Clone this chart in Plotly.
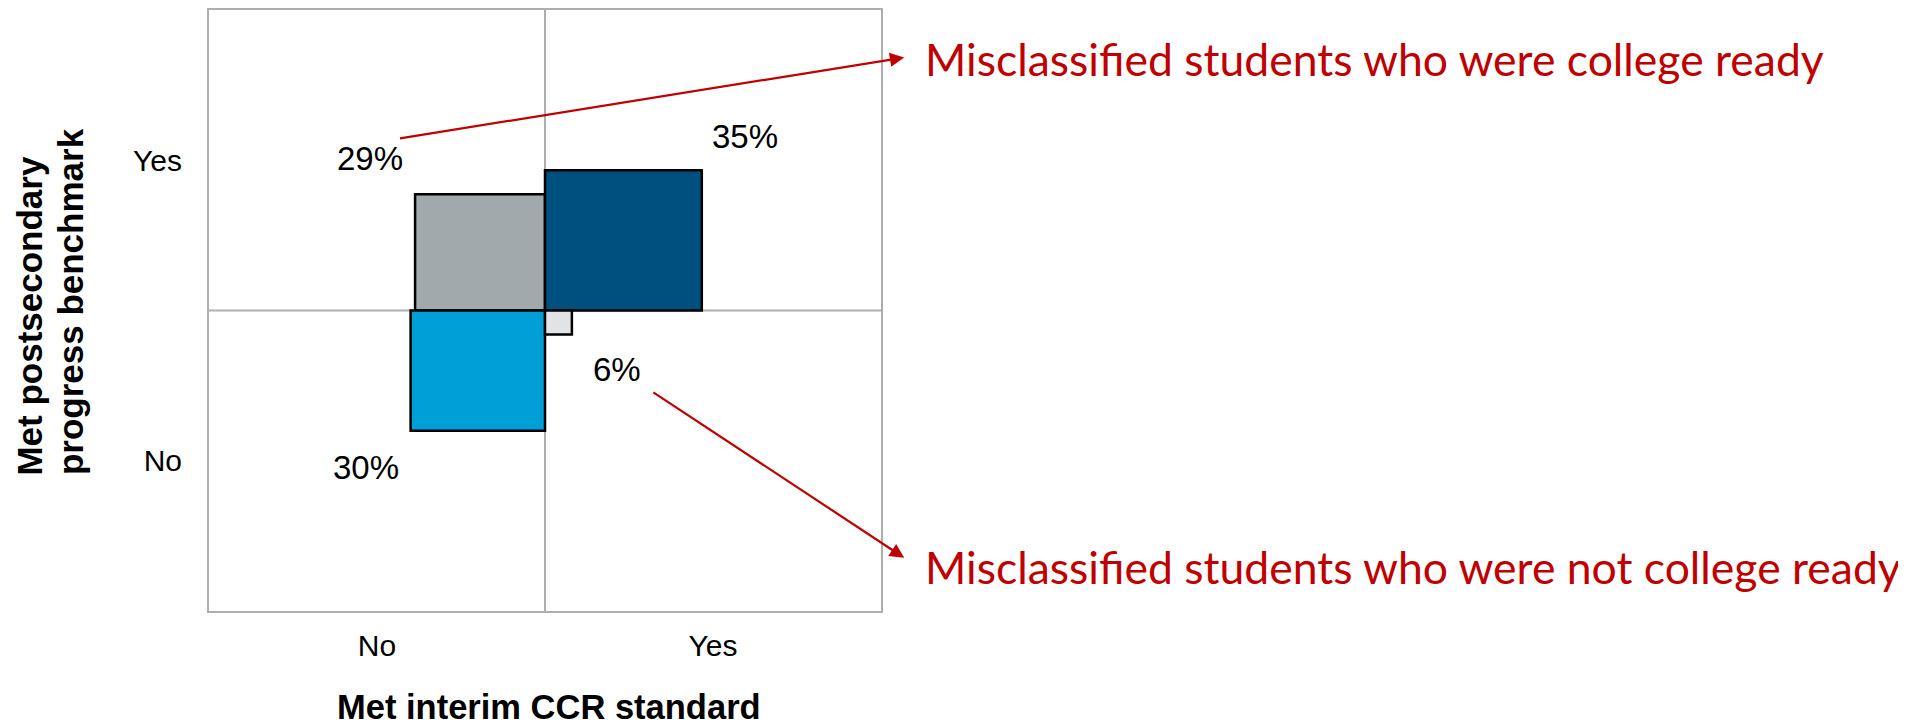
import plotly.graph_objects as go

# Quadrant data (met CCR standard x met postsecondary benchmark)
ccr_met = ['No', 'Yes', 'No', 'Yes']
benchmark_met = ['Yes', 'Yes', 'No', 'No']
percent = [29, 35, 30, 6]

x_ticks = ['No', 'Yes']
y_ticks = ['No', 'Yes']

callout_top = 'Misclassified students who were college ready'
callout_bottom = 'Misclassified students who were not college ready'

# styling
fills = ['#A2A9AD', '#00507F', '#009FD8', '#E1E4E6']
grid_col = '#AEAEAE'
red = '#C00000'
side_scale = 1 / 75  # square side (axis units) per percentage point
arial = 'Liberation Sans, Arial'

# label anchor points, axis units
label_pos = [(0.48, 1.505), (1.596, 1.58), (0.468, 0.478), (1.214, 0.803)]

fig = go.Figure()

for c, b, p, col in zip(ccr_met, benchmark_met, percent, fills):
    sx = 1 if c == 'Yes' else -1
    sy = 1 if b == 'Yes' else -1
    s = p * side_scale
    xs = [1, 1 + sx * s, 1 + sx * s, 1, 1]
    ys = [1, 1, 1 + sy * s, 1 + sy * s, 1]
    fig.add_trace(go.Scatter(x=xs, y=ys, mode='lines', fill='toself',
                             fillcolor=col, line=dict(color='black', width=2.5),
                             hoverinfo='skip', showlegend=False))

annotations = []
for p, (lx, ly) in zip(percent, label_pos):
    annotations.append(dict(x=lx, y=ly, xref='x', yref='y', text=f'{p}%',
                            showarrow=False, font=dict(family=arial, size=33, color='black')))

# arrows to the callouts
annotations.append(dict(x=2.069, y=1.842, ax=0.564, ay=1.572, xref='x', yref='y',
                        axref='x', ayref='y', text='', showarrow=True, arrowhead=2,
                        arrowsize=1.3, arrowwidth=2.2, arrowcolor=red))
annotations.append(dict(x=2.069, y=0.177, ax=1.318, ay=0.731, xref='x', yref='y',
                        axref='x', ayref='y', text='', showarrow=True, arrowhead=2,
                        arrowsize=1.3, arrowwidth=2.2, arrowcolor=red))
annotations.append(dict(x=1.062, y=0.9187, xref='paper', yref='paper', text=callout_top,
                        showarrow=False, xanchor='left', yanchor='middle',
                        font=dict(family='Lato', size=44.5, color=red)))
annotations.append(dict(x=1.062, y=0.0746, xref='paper', yref='paper', text=callout_bottom,
                        showarrow=False, xanchor='left', yanchor='middle',
                        font=dict(family='Lato', size=44.5, color=red)))

# axis titles
annotations.append(dict(x=0.506, y=-0.16, xref='paper', yref='paper',
                        text='<b>Met interim CCR standard</b>', showarrow=False,
                        xanchor='center', yanchor='middle',
                        font=dict(family=arial, size=34.5, color='black')))
annotations.append(dict(x=-0.2664, y=0.222, xref='paper', yref='paper', textangle=-90,
                        text='<b>Met postsecondary</b>', showarrow=False,
                        xanchor='center', yanchor='bottom',
                        font=dict(family=arial, size=35, color='black')))
annotations.append(dict(x=-0.2068, y=0.222, xref='paper', yref='paper', textangle=-90,
                        text='<b>progress benchmark</b>', showarrow=False,
                        xanchor='center', yanchor='bottom',
                        font=dict(family=arial, size=35, color='black')))

fig.update_layout(
    width=1898, height=720,
    margin=dict(l=201, r=1025, t=0, b=117),
    plot_bgcolor='white', paper_bgcolor='white',
    showlegend=False,
    annotations=annotations,
    shapes=[
        dict(type='line', xref='x', yref='y', x0=1, x1=1, y0=0, y1=2,
             line=dict(color=grid_col, width=2), layer='below'),
        dict(type='line', xref='x', yref='y', x0=0, x1=2, y0=1, y1=1,
             line=dict(color=grid_col, width=2), layer='below'),
    ],
    xaxis=dict(range=[0, 2], showgrid=False, zeroline=False, showline=True, mirror=True,
               linecolor=grid_col, linewidth=2, tickvals=[0.5, 1.5], ticktext=x_ticks,
               ticks='', ticklabelstandoff=7, fixedrange=True,
               tickfont=dict(family=arial, size=30, color='black')),
    yaxis=dict(range=[0, 2], showgrid=False, zeroline=False, showline=True, mirror=True,
               linecolor=grid_col, linewidth=2, tickvals=[0.5, 1.5], ticktext=y_ticks,
               ticks='', ticklabelstandoff=19, fixedrange=True,
               tickfont=dict(family=arial, size=30, color='black')),
)

fig.write_html('out.html')
